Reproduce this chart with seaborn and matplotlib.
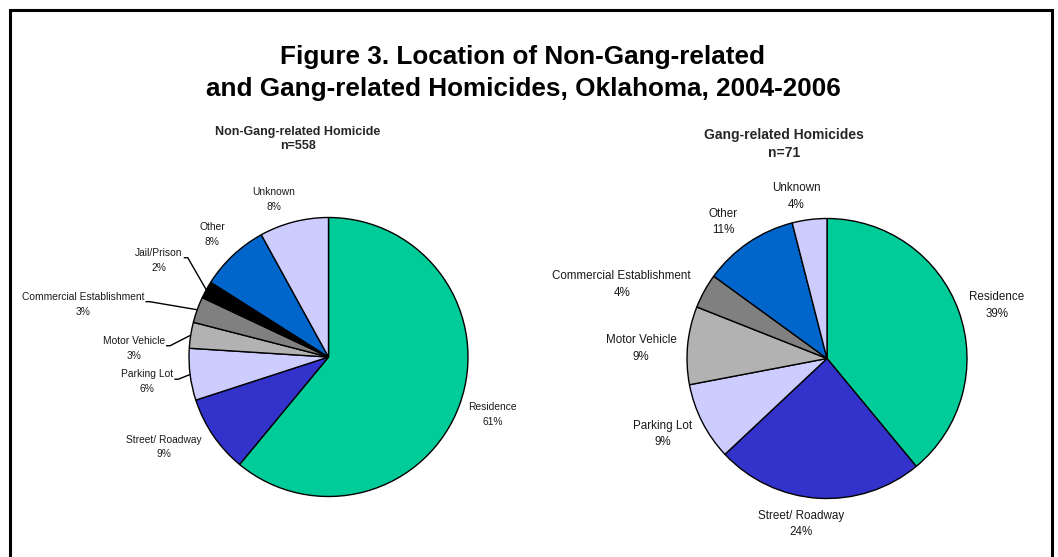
import numpy as np
import matplotlib
matplotlib.use('Agg')
import matplotlib.pyplot as plt
import seaborn as sns

# data (percent of homicides by location)
categories = ['Residence', 'Street/ Roadway', 'Parking Lot', 'Motor Vehicle',
              'Commercial Establishment', 'Jail/Prison', 'Other', 'Unknown']
non_gang_pct = [61, 9, 6, 3, 3, 2, 8, 8]
gang_pct = [39, 24, 9, 9, 4, 0, 11, 4]
non_gang_n = 558
gang_n = 71

slice_colors = ['#00CC99', '#3333CC', '#CCCCFF', '#B2B2B2',
                '#808080', '#000000', '#0066CC', '#CCCCFF']

# label centres, in units of pie radius from the pie centre
non_gang_label_pos = {
    'Residence': (1.177, -0.41),
    'Street/ Roadway': (-1.179, -0.645),
    'Parking Lot': (-1.299, -0.177),
    'Motor Vehicle': (-1.394, 0.063),
    'Commercial Establishment': (-1.758, 0.379),
    'Jail/Prison': (-1.215, 0.694),
    'Other': (-0.833, 0.880),
    'Unknown': (-0.391, 1.131),
}
gang_label_pos = {
    'Residence': (1.212, 0.38),
    'Street/ Roadway': (-0.186, -1.182),
    'Parking Lot': (-1.176, -0.538),
    'Motor Vehicle': (-1.329, 0.07),
    'Commercial Establishment': (-1.466, 0.527),
    'Other': (-0.74, 0.974),
    'Unknown': (-0.221, 1.156),
}
non_gang_leaders = ['Parking Lot', 'Motor Vehicle', 'Commercial Establishment', 'Jail/Prison']

sns.set_theme(style='white')
plt.rcParams['font.family'] = ['Liberation Sans', 'DejaVu Sans']

W, H = 1058, 557
fig = plt.figure(figsize=(W / 100, H / 100), dpi=100, facecolor='white')
ax = fig.add_axes([0, 0, 1, 1])


def to_xy(px, py):
    # image pixel (y down) -> data coords (y up)
    return px, H - py


def draw_pie(values, center, radius, label_pos, fontsize, linespacing):
    keep = [i for i, v in enumerate(values) if v > 0]
    vals = [values[i] for i in keep]
    wedges, _ = ax.pie(vals, colors=[slice_colors[i] for i in keep],
                       startangle=90, counterclock=False,
                       center=center, radius=radius,
                       wedgeprops=dict(edgecolor='black', linewidth=1.0))
    texts = {}
    for w, i in zip(wedges, keep):
        name = categories[i]
        dx, dy = label_pos[name]
        t = ax.text(center[0] + dx * radius, center[1] + dy * radius,
                    f'{name}\n{values[i]}%', ha='center', va='center',
                    fontsize=fontsize, linespacing=linespacing, color='#1a1a1a')
        texts[name] = (t, w)
    return texts


c1 = to_xy(328.5, 357)
c2 = to_xy(827, 358.5)
r1, r2 = 139.5, 140

texts1 = draw_pie(non_gang_pct, c1, r1, non_gang_label_pos, 7.4, 1.6)
texts2 = draw_pie(gang_pct, c2, r2, gang_label_pos, 8.4, 1.5)

ax.set_xlim(0, W)
ax.set_ylim(0, H)
ax.set_aspect('auto')
ax.axis('off')

# leader lines for the small slices
fig.canvas.draw()
renderer = fig.canvas.get_renderer()
inv = ax.transData.inverted()
for name in non_gang_leaders:
    t, w = texts1[name]
    bb = t.get_window_extent(renderer)
    (x0, y0), (x1, y1) = inv.transform([[bb.x0, bb.y0], [bb.x1, bb.y1]])
    ys = y0 + 0.6 * (y1 - y0)
    mid = np.deg2rad((w.theta1 + w.theta2) / 2)
    ex = c1[0] + r1 * np.cos(mid)
    ey = c1[1] + r1 * np.sin(mid)
    ax.plot([x1 + 1, x1 + 5, ex], [ys, ys, ey], color='black', lw=1.0, solid_capstyle='butt')

# titles
ax.text(*to_xy(523, 73), 'Figure 3. Location of Non-Gang-related\nand Gang-related Homicides, Oklahoma, 2004-2006',
        ha='center', va='center', fontsize=18.8, fontweight='bold', linespacing=1.4, color='black')
ax.text(*to_xy(298, 139), f'Non-Gang-related Homicide\nn={non_gang_n}',
        ha='center', va='center', fontsize=9, fontweight='bold', linespacing=1.3)
ax.text(*to_xy(784, 144), f'Gang-related Homicides\nn={gang_n}',
        ha='center', va='center', fontsize=10, fontweight='bold', linespacing=1.3)

# outer frame (bottom edge falls off the image)
ax.plot([10, 10, 1052, 1052], [0, H - 10, H - 10, 0], color='black', lw=2.2,
        solid_joinstyle='miter')

fig.savefig('out.png', dpi=100, facecolor='white')
